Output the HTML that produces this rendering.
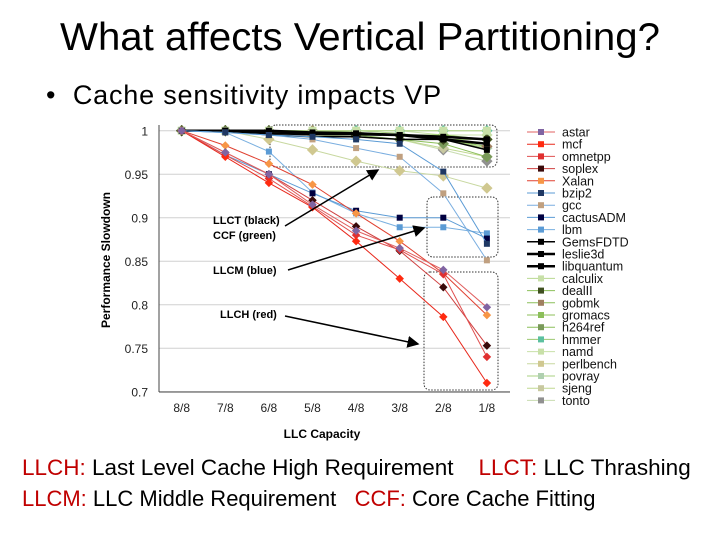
<!DOCTYPE html>
<html><head><meta charset="utf-8"><style>
body{margin:0;width:720px;height:540px;background:#fff;font-family:"Liberation Sans",sans-serif;overflow:hidden;position:relative}
.t{position:absolute;white-space:nowrap;color:#000}
</style></head><body>
<div class="t" style="left:0;width:720px;text-align:center;top:16px;font-size:39px;transform:scaleX(1.03)">What affects Vertical Partitioning?</div>
<div class="t" style="left:46px;top:80px;font-size:27px;letter-spacing:0.8px">• &nbsp;Cache sensitivity impacts VP</div>
<div class="t" style="left:22px;top:455px;font-size:22.5px"><span style="color:#c00000">LLCH:</span> Last Level Cache High Requirement &nbsp;&nbsp;&nbsp;<span style="color:#c00000">LLCT:</span> LLC Thrashing</div>
<div class="t" style="left:22px;top:486px;font-size:22px"><span style="color:#c00000">LLCM:</span> LLC Middle Requirement &nbsp;&nbsp;<span style="color:#c00000">CCF:</span> Core Cache Fitting</div>
<svg id="c" width="720" height="540" style="position:absolute;left:0;top:0" font-family="Liberation Sans, sans-serif"></svg>
<script>
const categories=["8/8","7/8","6/8","5/8","4/8","3/8","2/8","1/8"];
const yTicks=[1,0.95,0.9,0.85,0.8,0.75,0.7];
const names=["astar","mcf","omnetpp","soplex","Xalan","bzip2","gcc","cactusADM","lbm","GemsFDTD","leslie3d","libquantum","calculix","dealII","gobmk","gromacs","h264ref","hmmer","namd","perlbench","povray","sjeng","tonto"];
const astar=[1,.975,.95,.915,.885,.865,.84,.797];
const mcf=[1,.97,.94,.912,.873,.83,.786,.71];
const omnetpp=[1,.972,.945,.913,.88,.863,.835,.74];
const soplex=[1,.975,.95,.92,.89,.862,.82,.753];
const xalan=[1,.983,.962,.938,.905,.873,.836,.788];
const bzip2=[1,.998,.995,.993,.99,.985,.953,.87];
const gcc=[1,.998,.995,.99,.98,.97,.928,.851];
const cactusADM=[1,.972,.95,.928,.908,.9,.9,.876];
const lbm=[1,.998,.976,.929,.905,.889,.889,.882];
const gemsFDTD=[1,1,.995,.993,.993,.99,.99,.978];
const leslie3d=[1,1,.997,.996,.996,.995,.99,.985];
const libquantum=[1,1,1,.998,.997,.995,.993,.99];
const calculix=[1,1,1,1,1,1,1,1];
const dealII=[1,1,1,.998,.995,.995,.99,.99];
const gobmk=[1,1,1,1,.998,.995,.99,.982];
const gromacs=[1,1,1,1,.998,.995,.995,.99];
const h264ref=[1,1,.998,.997,.995,.99,.985,.97];
const hmmer=[1,1,1,1,1,1,1,1];
const namd=[1,1,1,1,1,1,.995,.995];
const perlbench=[1,1,.99,.978,.965,.954,.948,.934];
const povray=[1,1,1,1,1,.997,.99,.98];
const sjeng=[1,1,.998,.995,.993,.99,.98,.97];
const tonto=[1,1,.998,.996,.993,.99,.978,.965];
const series=[astar,mcf,omnetpp,soplex,xalan,bzip2,gcc,cactusADM,lbm,gemsFDTD,leslie3d,libquantum,calculix,dealII,gobmk,gromacs,h264ref,hmmer,namd,perlbench,povray,sjeng,tonto];
const lineCol=["#e06060","#e8281c","#e05050","#d04040","#e04030","#5b9bd5","#7aaee0","#5b9bd5","#7ab0e0","#000","#000","#000","#b8d890","#8cbf5a","#8cbf5a","#8cbf5a","#8cbf5a","#9cc870","#c8e0a8","#c8d8a0","#a8d080","#c0d890","#c8dcb0"];
const mkCol=["#8064a2","#ff2a10","#e03030","#3a0a0a","#f79646","#1f3864","#c0a080","#000040","#5b9bd5","#000","#000","#000","#c8e0a8","#405020","#a08060","#8cbf5a","#7a9a5a","#5cc0a0","#c8e0a8","#d0c890","#b0d0b0","#c8c8a0","#909090"];
const lw=[1,1,1,1,1,1,1,1,1,1.5,2.5,2.5,1,1,1,1,1,1,1,1,1,1,1];
const X0=181.7,DX=43.6,Y0=130.7,YS=261/0.3;
const x=i=>X0+i*DX, y=v=>Y0+(1-v)*YS;
const s=document.getElementById('c'),NS="http://www.w3.org/2000/svg";
function el(t,a,txt){const e=document.createElementNS(NS,t);for(const k in a)e.setAttribute(k,a[k]);if(txt!==undefined)e.textContent=txt;s.appendChild(e);return e;}
yTicks.forEach(v=>{
 const g=el('line',{x1:159,x2:510,y1:y(v),y2:y(v),stroke:"#d0d0d0","stroke-width":1});
 
 
 const t=el('text',{x:148,y:y(v)+5,"text-anchor":"end","font-size":12,fill:"#222"},String(v));
 
 
});
el('line',{x1:159,x2:159,y1:125,y2:392,stroke:"#444"});
el('line',{x1:159,x2:510,y1:392,y2:392,stroke:"#444"});
categories.forEach((c,i)=>{
 const t=el('text',{x:x(i),y:412,"text-anchor":"middle","font-size":12,fill:"#222"},c);
 
 
});
const xt=el('text',{x:322,y:438,"text-anchor":"middle","font-size":12,"font-weight":"bold"},"LLC Capacity");


const yt=el('text',{x:0,y:0,transform:"translate(110,260) rotate(-90)","text-anchor":"middle","font-size":12,"font-weight":"bold"},"Performance Slowdown");


[[270,125,227,42],[427,197,71,60],[424,272,74,118]].forEach(b=>{
 const r=el('rect',{x:b[0],y:b[1],width:b[2],height:b[3],rx:6,fill:"none",stroke:"#333","stroke-dasharray":"1.5,1.5"});
 
 
});
function draw(i){
 const d=series[i];
 const p=el('polyline',{points:d.map((v,j)=>x(j)+","+y(v)).join(" "),fill:"none",stroke:lineCol[i],"stroke-width":lw[i]});
 
 
 const sz=i>=12?8:6;
 d.forEach((v,j)=>{
  const m=el('rect',{x:x(j)-sz/2,y:y(v)-sz/2,width:sz,height:sz,fill:mkCol[i],transform:i<5||i>12?`rotate(45 ${x(j)} ${y(v)})`:""});
  
  
 });
}
for(let i=names.length-1;i>=0;i--)draw(i);
[["LLCT (black)",213,224],["CCF (green)",213,239],["LLCM (blue)",213,274],["LLCH (red)",220,318]].forEach(a=>{
 const t=el('text',{x:a[1],y:a[2],"font-size":11,"font-weight":"bold"},a[0]);
 
 
});
el('defs',{}).innerHTML='<marker id="ah" markerWidth="8" markerHeight="8" refX="7" refY="4" orient="auto"><path d="M0,0L8,4L0,8z" fill="#000"/></marker>';
[[285,226,378,170],[288,270,424,228],[285,316,418,344]].forEach(a=>{
 const l=el('line',{x1:a[0],y1:a[1],x2:a[2],y2:a[3],stroke:"#000","stroke-width":1.5,"marker-end":"url(#ah)"});
 
 
});
names.forEach((n,i)=>{
 const ly=132+i*12.2;
 const l=el('line',{x1:527,x2:555,y1:ly,y2:ly,stroke:lineCol[i],"stroke-width":lw[i]});
 
 
 const m=el('rect',{x:538,y:ly-3,width:6,height:6,fill:mkCol[i]});
 
 
 const t=el('text',{x:562,y:ly+4.5,"font-size":12.5,fill:"#111"},n);
 
 
});
</script>
</body></html>
